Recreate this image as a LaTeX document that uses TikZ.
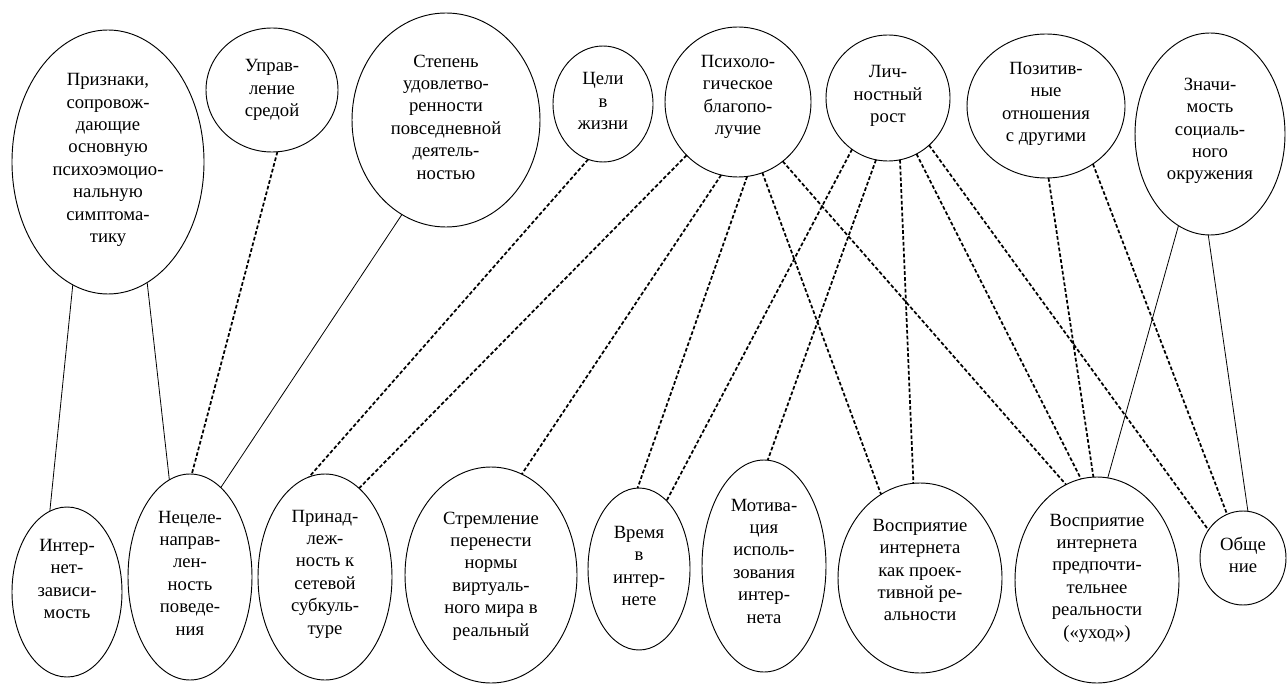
\documentclass[tikz,border=0pt]{standalone}
\usepackage{fontspec}
\setmainfont{Liberation Serif}
\usetikzlibrary{shapes.geometric}
\tikzset{
  oval/.style 2 args={ellipse, draw, line width=0.7pt, inner sep=0pt, outer sep=0pt,
    minimum width=#1*1.5pt, minimum height=#2*1.5pt},
  txt/.style={align=center, inner sep=0pt, font=\fontsize{14}{16.8}\selectfont},
  solidlink/.style={line width=0.6pt},
  dashlink/.style={line width=1.3pt, dash pattern=on 2.8pt off 1.6pt}
}
\begin{document}
\begin{tikzpicture}[x=0.75pt,y=-0.75pt]
\useasboundingbox (0,0) rectangle (1287,684);
% top row
\node[oval={96}{132}] (priz) at (108,162) {};
\node[oval={66}{62}] (upr) at (272,90) {};
\node[oval={94}{107}] (step) at (446,120) {};
\node[oval={50}{58}] (celi) at (603,104) {};
\node[oval={73}{75}] (psych) at (738,102) {};
\node[oval={62}{63}] (lich) at (888,98) {};
\node[oval={79}{72}] (pozit) at (1046,106) {};
\node[oval={75}{101}] (znach) at (1210,134) {};
% bottom row
\node[oval={55}{85}] (inet) at (67,592) {};
\node[oval={62}{103}] (necel) at (190,577) {};
\node[oval={67}{103}] (prinad) at (325,577) {};
\node[oval={86}{108}] (strem) at (491,575) {};
\node[oval={51}{81}] (vremya) at (639,569) {};
\node[oval={62}{106}] (motiv) at (764,566) {};
\node[oval={82}{95}] (vospa) at (920,578) {};
\node[oval={82}{103}] (vospb) at (1097,580) {};
\node[oval={43}{47}] (obsh) at (1243,558) {};
% texts
\node[txt] (priz-t) at (108,160) {Признаки,\\сопровож-\\дающие\\основную\\психоэмоцио-\\нальную\\симптома-\\тику};
\node[txt] (upr-t) at (272,90) {Управ-\\ление\\средой};
\node[txt] (step-t) at (446,117) {Степень\\удовлетво-\\ренности\\повседневной\\деятель-\\ностью};
\node[txt] (celi-t) at (603,101) {Цели\\в\\жизни};
\node[txt] (psych-t) at (738,97) {Психоло-\\гическое\\благопо-\\лучие};
\node[txt] (lich-t) at (888,96) {Лич-\\ностный\\рост};
\node[txt] (pozit-t) at (1046,104) {Позитив-\\ные\\отношения\\с другими};
\node[txt] (znach-t) at (1210,131) {Значи-\\мость\\социаль-\\ного\\окружения};
\node[txt] (inet-t) at (67,579) {Интер-\\нет-\\зависи-\\мость};
\node[txt] (necel-t) at (190,573) {Нецеле-\\направ-\\лен-\\ность\\поведе-\\ния};
\node[txt] (prinad-t) at (325,574) {Принад-\\леж-\\ность к\\сетевой\\субкуль-\\туре};
\node[txt] (strem-t) at (491,576) {Стремление\\перенести\\нормы\\виртуаль-\\ного мира в\\реальный};
\node[txt] (vremya-t) at (639,566) {Время\\в\\интер-\\нете};
\node[txt] (motiv-t) at (764,561) {Мотива-\\ция\\исполь-\\зования\\интер-\\нета};
\node[txt] (vospa-t) at (920,570) {Восприятие\\интернета\\как проек-\\тивной ре-\\альности};
\node[txt] (vospb-t) at (1097,578) {Восприятие\\интернета\\предпочти-\\тельнее\\реальности\\(«уход»)};
\node[txt] (obsh-t) at (1243,555) {Обще\\ние};
% solid connectors
\draw[solidlink] (priz.254) -- (inet.102);
\draw[solidlink] (priz.288) -- (necel.102);
\draw[solidlink] (step.245) -- (necel.71);
\draw[solidlink] (znach.251) -- (vospb.84);
\draw[solidlink] (znach.269) -- (obsh.84);
% dashed connectors
\draw[dashlink] (upr.275) -- (necel.89);
\draw[dashlink] (celi.255) -- (prinad.99);
\draw[dashlink] (psych.226) -- (prinad.69);
\draw[dashlink] (psych.257) -- (strem.73);
\draw[dashlink] (psych.277) -- (vremya.91);
\draw[dashlink] (psych.289) -- (vospa.115);
\draw[dashlink] (psych.307) -- (vospb.108);
\draw[dashlink] (lich.235) -- (vremya.68);
\draw[dashlink] (lich.259) -- (motiv.88);
\draw[dashlink] (lich.281) -- (vospa.94);
\draw[dashlink] (lich.297) -- (vospb.99);
\draw[dashlink] (lich.311) -- (obsh.141);
\draw[dashlink] (pozit.272) -- (vospb.92);
\draw[dashlink] (pozit.309) -- (obsh.110);
\end{tikzpicture}
\end{document}
